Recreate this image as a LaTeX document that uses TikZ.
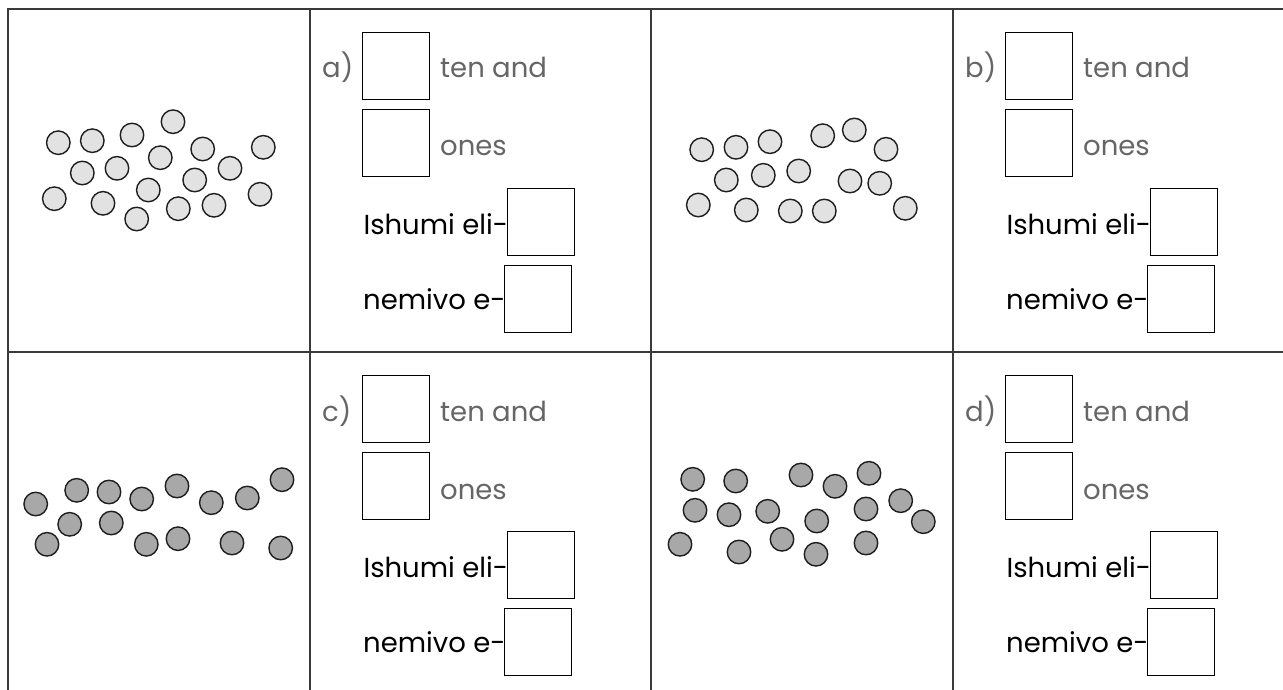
\documentclass[tikz,border=0pt]{standalone}
\usepackage{fontspec}
\setmainfont{Poppins}
\definecolor{gridline}{HTML}{3A3A3A}
\definecolor{greytext}{HTML}{666666}
\definecolor{lightdot}{HTML}{E2E2E2}
\definecolor{darkdot}{HTML}{A8A8A8}
\definecolor{dotedge}{HTML}{1E1E1E}
\tikzset{
  gridrule/.style={draw=gridline, line width=2pt},
  lightc/.style={circle, draw=dotedge, fill=lightdot, line width=1.4pt, minimum size=23.5pt, inner sep=0pt},
  darkc/.style={circle, draw=dotedge, fill=darkdot, line width=1.4pt, minimum size=23.5pt, inner sep=0pt},
  ansbox/.style={draw=black, line width=1pt, minimum size=67pt, inner sep=0pt},
  gtext/.style={text=greytext, anchor=base west, inner sep=0pt, font=\fontsize{27.5}{32}\selectfont},
  btext/.style={text=black, anchor=base west, inner sep=0pt, font=\fontsize{27.5}{32}\selectfont},
  answers/.pic={
    \node[gtext] (-lab) at (12,78) {\pictitle};
    \node[ansbox] (-b1) at (86.3,65.6) {};
    \node[gtext] (-ten) at (130,78) {ten and};
    \node[ansbox] (-b2) at (86.3,143.3) {};
    \node[gtext] (-ones) at (130,156) {ones};
    \node[btext] (-ish) at (53.3,234) {Ishumi eli-};
    \node[ansbox] (-b3) at (231.2,221.7) {};
    \node[btext] (-nem) at (53,309) {nemivo e-};
    \node[ansbox] (-b4) at (227.9,299) {};
  },
  pictitle/.store in=\pictitle
}
\begin{document}
\begin{tikzpicture}[x=1pt,y=-1pt]
\useasboundingbox (0,0) rectangle (1283,690);
% grid
\draw[gridrule] (7.5,9) -- (1283,9);
\draw[gridrule] (7.5,352) -- (1283,352);
\draw[gridrule] (7.5,8) -- (7.5,690);
\draw[gridrule] (310,8) -- (310,690);
\draw[gridrule] (650.5,8) -- (650.5,690);
\draw[gridrule] (953,8) -- (953,690);
% answer panels
\pic[pictitle={a)}] (pa) at (310,0) {answers};
\pic[pictitle={b)}] (pb) at (953,0) {answers};
\pic[pictitle={c)}] (pc) at (310,343) {answers};
\pic[pictitle={d)}] (pd) at (953,343) {answers};
% panel 1 counters
\foreach \x/\y [count=\i] in {58.3/142.7,92.3/140.7,132/135,173/121.7,202.7/149,263.3/147.3,82.3/173,117/168.3,160.3/157.7,230/168.3,194.7/180,148.3/190,54.3/198.7,103/203.3,136.7/219,178.3/208.7,214/205.3,260/194.3}
  \node[lightc] (p1c\i) at (\x,\y) {};
% panel 2 counters
\foreach \x/\y [count=\i] in {701.7/149.7,736/147.3,770/141.7,822.7/135.7,854.3/130,886/149.3,726.3/180,763.3/175.3,798.7/171,850/181,879.7/183.3,698.3/205,746.3/210,790.3/211,824.3/211,905.3/208.3}
  \node[lightc] (p2c\i) at (\x,\y) {};
% panel 3 counters
\foreach \x/\y [count=\i] in {35.7/504,76.7/490.3,109/492,141.7/499,177/486,211.3/502.7,247.3/498,282/479.7,69.7/524.3,111.3/523,47/544.3,146.3/544.3,178/538.7,232/543,280.7/548}
  \node[darkc] (p3c\i) at (\x,\y) {};
% panel 4 counters
\foreach \x/\y [count=\i] in {692.7/479.3,735.7/481,801/475,835/486.3,869/473.3,695/510.3,729/514.7,767.7/511.3,816.7/521,866/509,900.7/500.7,923.3/521.7,680/544.3,739/552,782/539.3,816/554.3,866/543}
  \node[darkc] (p4c\i) at (\x,\y) {};
\end{tikzpicture}
\end{document}
